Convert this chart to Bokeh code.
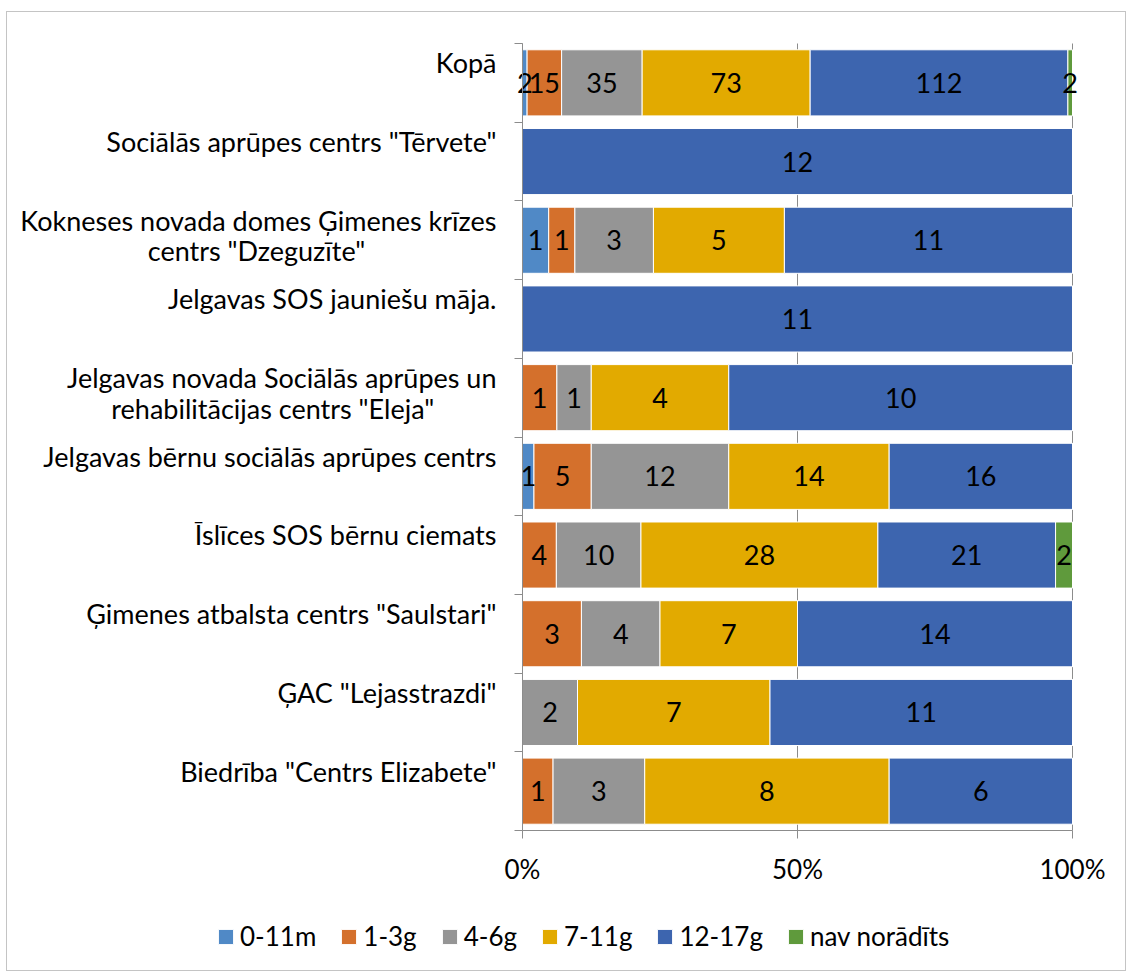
import pandas as pd
from bokeh.plotting import figure
from bokeh.models import (ColumnDataSource, FixedTicker, NumeralTickFormatter,
                          Legend, LegendItem, Range1d)
from bokeh.core.properties import value
from bokeh.embed import file_html
from bokeh.resources import INLINE

# ---- data (bottom to top) ----
categories = [
    'Biedrība "Centrs Elizabete"',
    'ĢAC "Lejasstrazdi"',
    'Ģimenes atbalsta centrs "Saulstari"',
    'Īslīces SOS bērnu ciemats',
    'Jelgavas bērnu sociālās aprūpes centrs',
    'Jelgavas novada Sociālās aprūpes un\nrehabilitācijas centrs "Eleja"',
    'Jelgavas SOS jauniešu māja.',
    'Kokneses novada domes Ģimenes krīzes\ncentrs "Dzeguzīte"',
    'Sociālās aprūpes centrs "Tērvete"',
    'Kopā',
]
series = ["0-11m", "1-3g", "4-6g", "7-11g", "12-17g", "nav norādīts"]
m0_11 = [0, 0, 0, 0, 1, 0, 0, 1, 0, 2]
g1_3 = [1, 0, 3, 4, 5, 1, 0, 1, 0, 15]
g4_6 = [3, 2, 4, 10, 12, 1, 0, 3, 0, 35]
g7_11 = [8, 7, 7, 28, 14, 4, 0, 5, 0, 73]
g12_17 = [6, 11, 14, 21, 16, 10, 11, 11, 12, 112]
nav = [0, 0, 0, 2, 0, 0, 0, 0, 0, 2]
colors = ["#5089C6", "#D4702C", "#959595", "#E2AA00", "#3D65AF", "#5F9A3C"]
x_ticks = [0, 0.5, 1]

FONT = "Lato"
NBSP = "\u00a0"

# ---- layout (pixels) ----
W, H = 1120, 960            # canvas
PLOT_L, PLOT_R = 515, 1065  # plot area (0% .. 100%) inside canvas
PLOT_T, PLOT_B = 31, 818    # plot area top / bottom inside canvas

df = pd.DataFrame({"0-11m": m0_11, "1-3g": g1_3, "4-6g": g4_6,
                   "7-11g": g7_11, "12-17g": g12_17, "nav norādīts": nav})
totals = df.sum(axis=1)
frac = df.div(totals, axis=0)
right = frac.cumsum(axis=1)
left = right - frac

ys = list(range(len(categories)))
y_lo, y_hi = -0.5, len(categories) - 0.5

# the frame covers the whole canvas, the category area is placed inside it
xs_per_px = 1.0 / (PLOT_R - PLOT_L)
ys_per_px = (y_hi - y_lo) / (PLOT_B - PLOT_T)
x_range = Range1d(0 - PLOT_L * xs_per_px, 1 + (W - PLOT_R) * xs_per_px)
y_range = Range1d(y_lo - (H - PLOT_B) * ys_per_px, y_hi + PLOT_T * ys_per_px)

p = figure(width=W, height=H, x_range=x_range, y_range=y_range,
           output_backend="svg", toolbar_location=None,
           min_border_left=0, min_border_right=0, min_border_top=0, min_border_bottom=0)
p.outline_line_color = None
p.ygrid.grid_line_color = None
p.background_fill_color = "white"
p.border_fill_color = "white"
p.styles = {"border": "1px solid #c4c4c4", "margin-left": "6px", "margin-top": "11px"}

# vertical gridlines limited to the category area
p.xgrid.ticker = FixedTicker(ticks=x_ticks)
p.xgrid.bounds = (0, 1)
try:
    p.xgrid.cross_bounds = (y_lo, y_hi)
    p.xgrid.grid_line_color = "#8c8c8c"
except AttributeError:
    p.xgrid.grid_line_color = None
    p.segment(x0=x_ticks[1:], x1=x_ticks[1:], y0=[y_lo] * 2, y1=[y_hi] * 2,
              line_color="#8c8c8c", line_width=1)

renderers = []
for i, s in enumerate(series):
    src = ColumnDataSource(dict(y=ys, left=left[s].tolist(), right=right[s].tolist()))
    r = p.hbar(y="y", left="left", right="right", height=0.84, source=src,
               fill_color=colors[i], line_color="white", line_width=1)
    renderers.append(r)

# value labels
lx, ly, lt = [], [], []
for i, s in enumerate(series):
    for j in ys:
        v = df[s].iloc[j]
        if v > 0:
            lx.append((left[s].iloc[j] + right[s].iloc[j]) / 2)
            ly.append(j)
            lt.append(str(v))
p.text(x=lx, y=ly, text=lt, text_align="center", text_baseline="middle",
       text_font=value(FONT), text_font_size="27px", text_color="black")

# x axis (drawn at the bottom of the category area)
p.xaxis.fixed_location = y_lo
p.xaxis.bounds = (0, 1)
p.xaxis.ticker = FixedTicker(ticks=x_ticks)
p.xaxis.formatter = NumeralTickFormatter(format="0%")
p.xaxis.axis_line_color = "#8c8c8c"
p.xaxis.major_tick_line_color = "#8c8c8c"
p.xaxis.major_tick_out = 8
p.xaxis.major_tick_in = 0
p.xaxis.minor_tick_line_color = None
p.xaxis.major_label_text_font = FONT
p.xaxis.major_label_text_font_size = "26px"
p.xaxis.major_label_text_color = "black"
p.xaxis.major_label_standoff = 14


# y axis: second line of two-line labels centred under the first,
# one-line labels sit in the upper half of their band (as in the source)
def fmt_label(c):
    if "\n" not in c:
        return c + "\n" + NBSP
    a, b = c.split("\n")
    pad = 19 if a.startswith("Kokneses") else 9
    return a + "\n" + b + NBSP * pad


LABEL_SHIFT = 0.06
label_pos = [y + LABEL_SHIFT for y in ys]
ylabels = {t: fmt_label(c) for t, c in zip(label_pos, categories)}
p.yaxis.fixed_location = 0
p.yaxis.bounds = (y_lo, y_hi)
p.yaxis.ticker = FixedTicker(ticks=label_pos, minor_ticks=[y - 0.5 for y in ys] + [y_hi])
p.yaxis.major_label_overrides = ylabels
p.yaxis.axis_line_color = "#8c8c8c"
p.yaxis.major_tick_line_color = None
p.yaxis.minor_tick_line_color = "#8c8c8c"
p.yaxis.minor_tick_out = 8
p.yaxis.minor_tick_in = 0
p.yaxis.major_label_text_font = FONT
p.yaxis.major_label_text_font_size = "27px"
p.yaxis.major_label_text_line_height = 0.93
p.yaxis.major_label_text_color = "black"
p.yaxis.major_label_standoff = 18

legend = Legend(items=[LegendItem(label=s, renderers=[r]) for s, r in zip(series, renderers)],
                orientation="horizontal", location=(209, 20),
                glyph_width=19, glyph_height=19, label_standoff=5, spacing=23,
                padding=0, margin=0, border_line_color=None, background_fill_alpha=0,
                label_text_font=FONT, label_text_font_size="26px", label_text_color="black")
p.add_layout(legend, "center")

open("out.html", "w").write(file_html(p, INLINE))
